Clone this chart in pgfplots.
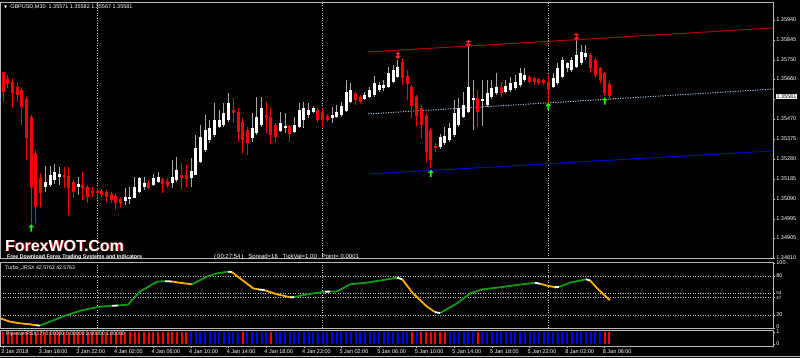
\documentclass[border=0pt]{standalone}
\usepackage{pgfplots}
\pgfplotsset{compat=1.18}
\usepackage{pgfplotstable}
\usepackage{fontspec}
\setmainfont{Liberation Sans}
\newfontfamily\symfont{DejaVu Sans}
\definecolor{bullwick}{HTML}{A8A8A8}
\definecolor{bear}{HTML}{FF0000}
\definecolor{jgreen}{HTML}{139A13}
\definecolor{jorange}{HTML}{FFAE00}
\definecolor{frame}{HTML}{B8B8B8}
\definecolor{sep}{HTML}{C8C8C8}
\definecolor{chred}{HTML}{B40000}
\definecolor{chblue}{HTML}{0000C8}
\definecolor{chdot}{HTML}{9AB8D0}
\definecolor{arrgreen}{HTML}{00FF00}
\definecolor{arrred}{HTML}{FF2020}
\newcommand{\tf}{\fontsize{5.5}{6}\selectfont}

\pgfdeclareplotmark{uparr}{%
  \pgfpathmoveto{\pgfqpoint{0bp}{3.8bp}}%
  \pgfpathlineto{\pgfqpoint{2.8bp}{0.6bp}}%
  \pgfpathlineto{\pgfqpoint{0.9bp}{0.6bp}}%
  \pgfpathlineto{\pgfqpoint{0.9bp}{-3.6bp}}%
  \pgfpathlineto{\pgfqpoint{-0.9bp}{-3.6bp}}%
  \pgfpathlineto{\pgfqpoint{-0.9bp}{0.6bp}}%
  \pgfpathlineto{\pgfqpoint{-2.8bp}{0.6bp}}%
  \pgfpathclose\pgfusepathqfill}
\pgfdeclareplotmark{dnarr}{%
  \pgfpathmoveto{\pgfqpoint{0bp}{-3.8bp}}%
  \pgfpathlineto{\pgfqpoint{2.8bp}{-0.6bp}}%
  \pgfpathlineto{\pgfqpoint{0.9bp}{-0.6bp}}%
  \pgfpathlineto{\pgfqpoint{0.9bp}{3.6bp}}%
  \pgfpathlineto{\pgfqpoint{-0.9bp}{3.6bp}}%
  \pgfpathlineto{\pgfqpoint{-0.9bp}{-0.6bp}}%
  \pgfpathlineto{\pgfqpoint{-2.8bp}{-0.6bp}}%
  \pgfpathclose\pgfusepathqfill
  \pgfpathrectangle{\pgfqpoint{-2.2bp}{2bp}}{\pgfqpoint{4.4bp}{0.8bp}}\pgfusepathqfill}

% bullish candles: index, open, high, low, close
\pgfplotstableread{
i o h l c
9 1.35147 1.35247 1.35123 1.35171
10 1.35156 1.35247 1.35147 1.35204
11 1.35180 1.35256 1.35161 1.35218
12 1.35194 1.35242 1.35156 1.35209
16 1.35147 1.35194 1.35109 1.35161
26 1.35080 1.35142 1.35061 1.35099
27 1.35090 1.35147 1.35066 1.35099
28 1.35095 1.35194 1.35095 1.35147
29 1.35123 1.35194 1.35118 1.35190
30 1.35147 1.35194 1.35133 1.35166
32 1.35156 1.35209 1.35152 1.35190
33 1.35171 1.35218 1.35166 1.35194
36 1.35166 1.35275 1.35142 1.35194
37 1.35180 1.35289 1.35171 1.35228
40 1.35190 1.35285 1.35147 1.35223
41 1.35204 1.35394 1.35204 1.35332
42 1.35266 1.35441 1.35261 1.35384
43 1.35323 1.35489 1.35313 1.35418
44 1.35370 1.35465 1.35356 1.35427
45 1.35394 1.35546 1.35384 1.35465
46 1.35432 1.35513 1.35427 1.35465
47 1.35441 1.35546 1.35432 1.35498
48 1.35465 1.35593 1.35456 1.35546
53 1.35380 1.35498 1.35361 1.35427
54 1.35403 1.35574 1.35394 1.35479
55 1.35441 1.35574 1.35432 1.35522
59 1.35413 1.35503 1.35408 1.35451
60 1.35427 1.35498 1.35403 1.35437
62 1.35408 1.35479 1.35403 1.35441
63 1.35432 1.35546 1.35427 1.35513
64 1.35465 1.35551 1.35427 1.35522
65 1.35489 1.35546 1.35475 1.35513
66 1.35503 1.35532 1.35498 1.35522
70 1.35475 1.35527 1.35451 1.35489
71 1.35479 1.35536 1.35475 1.35503
72 1.35489 1.35551 1.35479 1.35532
73 1.35508 1.35655 1.35503 1.35598
74 1.35551 1.35641 1.35546 1.35608
77 1.35565 1.35598 1.35560 1.35584
78 1.35574 1.35622 1.35570 1.35608
79 1.35584 1.35674 1.35574 1.35641
80 1.35608 1.35646 1.35598 1.35631
81 1.35617 1.35655 1.35603 1.35631
82 1.35622 1.35717 1.35617 1.35688
83 1.35646 1.35726 1.35641 1.35703
84 1.35669 1.35750 1.35665 1.35717
93 1.35337 1.35399 1.35327 1.35384
94 1.35356 1.35432 1.35346 1.35389
95 1.35370 1.35451 1.35361 1.35427
96 1.35394 1.35560 1.35384 1.35498
97 1.35441 1.35570 1.35432 1.35522
98 1.35479 1.35598 1.35475 1.35536
99 1.35503 1.35812 1.35498 1.35622
100 1.35560 1.35655 1.35418 1.35570
102 1.35555 1.35655 1.35437 1.35565
103 1.35536 1.35655 1.35527 1.35593
104 1.35574 1.35655 1.35565 1.35617
105 1.35593 1.35688 1.35584 1.35622
107 1.35598 1.35655 1.35593 1.35627
108 1.35608 1.35669 1.35598 1.35641
109 1.35617 1.35679 1.35608 1.35646
110 1.35631 1.35712 1.35622 1.35688
111 1.35655 1.35712 1.35646 1.35679
117 1.35622 1.35688 1.35617 1.35665
118 1.35641 1.35736 1.35631 1.35712
119 1.35669 1.35764 1.35665 1.35750
120 1.35712 1.35741 1.35693 1.35736
121 1.35703 1.35764 1.35693 1.35750
122 1.35717 1.35845 1.35712 1.35774
123 1.35736 1.35821 1.35726 1.35788
124 1.35764 1.35821 1.35750 1.35783
}\bulldata

% bearish candles: index, open, high, low, close
\pgfplotstableread{
i o h l c
0 1.35693 1.35693 1.35551 1.35598
1 1.35660 1.35679 1.35617 1.35636
2 1.35646 1.35665 1.35527 1.35593
3 1.35622 1.35641 1.35551 1.35584
4 1.35608 1.35617 1.35441 1.35527
5 1.35565 1.35574 1.35275 1.35380
6 1.35479 1.35489 1.34976 1.35142
7 1.35308 1.35323 1.34976 1.35052
8 1.35190 1.35213 1.35052 1.35118
13 1.35204 1.35242 1.35142 1.35194
14 1.35199 1.35242 1.35014 1.35142
15 1.35171 1.35180 1.35095 1.35123
17 1.35156 1.35218 1.35085 1.35142
18 1.35147 1.35156 1.35071 1.35099
19 1.35128 1.35147 1.35099 1.35118
20 1.35128 1.35142 1.35095 1.35118
21 1.35128 1.35137 1.35095 1.35109
22 1.35123 1.35133 1.35076 1.35099
23 1.35114 1.35123 1.35071 1.35085
24 1.35104 1.35114 1.35038 1.35071
25 1.35090 1.35099 1.35052 1.35071
31 1.35166 1.35180 1.35137 1.35142
34 1.35185 1.35190 1.35118 1.35161
35 1.35175 1.35190 1.35142 1.35152
38 1.35204 1.35261 1.35133 1.35190
39 1.35204 1.35251 1.35147 1.35185
49 1.35513 1.35570 1.35451 1.35498
50 1.35503 1.35522 1.35361 1.35408
51 1.35456 1.35475 1.35308 1.35370
52 1.35418 1.35432 1.35299 1.35356
56 1.35489 1.35551 1.35403 1.35475
57 1.35479 1.35527 1.35356 1.35394
58 1.35441 1.35451 1.35356 1.35384
61 1.35437 1.35441 1.35361 1.35399
67 1.35513 1.35522 1.35456 1.35465
68 1.35503 1.35522 1.35432 1.35465
69 1.35484 1.35494 1.35456 1.35465
75 1.35593 1.35598 1.35536 1.35560
76 1.35574 1.35584 1.35546 1.35551
85 1.35741 1.35760 1.35631 1.35665
86 1.35674 1.35703 1.35560 1.35636
87 1.35622 1.35631 1.35475 1.35532
88 1.35574 1.35584 1.35437 1.35484
89 1.35522 1.35536 1.35380 1.35441
90 1.35484 1.35494 1.35266 1.35313
91 1.35418 1.35427 1.35237 1.35275
92 1.35342 1.35356 1.35313 1.35332
101 1.35570 1.35608 1.35432 1.35503
106 1.35622 1.35646 1.35574 1.35593
112 1.35669 1.35679 1.35641 1.35646
113 1.35665 1.35669 1.35631 1.35646
114 1.35660 1.35665 1.35631 1.35641
115 1.35655 1.35660 1.35631 1.35641
116 1.35646 1.35679 1.35546 1.35608
125 1.35774 1.35783 1.35688 1.35712
126 1.35750 1.35760 1.35665 1.35679
127 1.35712 1.35717 1.35641 1.35655
128 1.35688 1.35693 1.35579 1.35593
129 1.35636 1.35646 1.35565 1.35581
}\beardata

\pgfplotsset{
  mtbase/.style={
    scale only axis, width=773bp, anchor=south west,
    xmin=-0.64, xmax=163.8,
    axis line style={draw=none},
    tick align=outside, major tick length=2bp,
    tick style={draw=frame, line width=0.6bp},
    tick label style={font=\tf, text=white},
    yticklabel style={anchor=west, inner sep=1.2bp},
    major grid style={draw=sep, line width=0.7bp, dash pattern=on 1bp off 1.5bp},
    scaled y ticks=false, scaled x ticks=false,
    clip mode=individual,
  },
  wick/.style={draw=none, mark=none, forget plot,
    error bars/.cd, y dir=minus, y explicit, error mark=none,
    error bar style={draw=#1, line width=1bp, solid}},
  body/.style={draw=none, mark=none, forget plot,
    error bars/.cd, y dir=minus, y explicit, error mark=none,
    error bar style={draw=#1, line width=3bp, solid}},
  level/.style={sep, line width=0.7bp, dash pattern=on 1bp off 1.5bp, mark=none, forget plot},
}

\begin{document}
\begin{tikzpicture}
\fill[black] (0bp,0bp) rectangle (800bp,358bp);
\useasboundingbox (0bp,0bp) rectangle (800bp,358bp);

% ---------------- main price panel ----------------
\begin{axis}[mtbase, at={(0bp,99bp)}, height=256bp,
  ymin=1.348048, ymax=1.360208,
  xtick={20,68,116}, xticklabels={}, xtick style={draw=none}, xmajorgrids,
  ytick pos=right,
  ytick={1.34810,1.34905,1.34995,1.35090,1.35185,1.35280,1.35375,1.35470,1.35565,1.35660,1.35750,1.35845,1.35940},
  yticklabels={1.34810,1.34905,1.34995,1.35090,1.35185,1.35280,1.35375,1.35470,,1.35660,1.35750,1.35845,1.35940},
]
\addplot[chred, line width=1bp, mark=none] coordinates {(77.66,1.35788) (163.8,1.35902)};
\addplot[chdot, line width=1bp, mark=none, dash pattern=on 1.2bp off 1.3bp] coordinates {(77.66,1.35494) (163.8,1.35612)};
\addplot[chblue, line width=1bp, mark=none] coordinates {(78.1,1.35209) (163.8,1.35318)};

\addplot[wick=bullwick] table[x=i, y=h, y error expr=\thisrow{h}-\thisrow{l}] {\bulldata};
\addplot[wick=bear] table[x=i, y=h, y error expr=\thisrow{h}-\thisrow{l}] {\beardata};
\addplot[body=white] table[x=i, y=c, y error expr=\thisrow{c}-\thisrow{o}] {\bulldata};
\addplot[body=bear] table[x=i, y=o, y error expr=\thisrow{o}-\thisrow{c}] {\beardata};

\addplot[only marks, mark=uparr, color=arrgreen] coordinates {(6,1.34952) (91,1.35211) (116,1.35529) (128,1.35555)};
\addplot[only marks, mark=dnarr, color=arrred] coordinates {(84,1.35771) (99,1.35828) (122,1.35859)};
\end{axis}

% ---------------- Turbo_JRSX panel ----------------
\begin{axis}[mtbase, at={(0bp,30bp)}, height=66bp,
  ymin=0, ymax=101.5,
  xtick={20,68,116}, xticklabels={}, xtick style={draw=none}, xmajorgrids,
  ytick pos=right,
  ytick={0,20,47,53,80,100},
  yticklabels={\raisebox{3.5bp}{0},20,{\fontsize{4.6}{5}\selectfont\raisebox{-1.6bp}{47}},{\fontsize{4.6}{5}\selectfont\raisebox{1.6bp}{53}},80,\raisebox{-3bp}{100}},
  unbounded coords=jump,
]
\addplot[level] coordinates {(-0.64,20) (163.8,20)};
\addplot[level] coordinates {(-0.64,47) (163.8,47)};
\addplot[level] coordinates {(-0.64,53) (163.8,53)};
\addplot[level] coordinates {(-0.64,80) (163.8,80)};
\addplot[jorange, line width=1.8bp, mark=none, line join=round] coordinates {
(-0.64,15) (1.5,9.7) (3.6,7.2) (5.7,5.7) (7.0,4.2) (8,nan)
(36.0,71.5) (37.7,69.5) (40.2,67.2) (41,nan)
(48.7,86) (50.4,76.4) (53.2,61) (54.3,59.5) (55,nan)
(55.7,58) (58.3,51.8) (61.1,47.3) (62,nan)
(84.9,75) (87.2,53.4) (90.2,32.8) (91.9,24.5) (92,nan)
(114.3,68) (115.7,65.1) (117.4,62.8) (118,nan)
(124.9,73) (126.4,61) (129.1,42.6)};
\addplot[jgreen, line width=1.8bp, mark=none, line join=round] coordinates {
(7.9,3.8) (10.0,9.7) (13.6,20) (17.0,27.7) (20.6,32.8) (23.2,34.2) (24,nan)
(24.5,34.6) (26.6,36) (29.1,55.9) (32.8,71.3) (34.5,72) (35,nan)
(40.2,67.2) (43.4,79) (45.5,84) (47.9,86.6) (48,nan)
(61.9,47.5) (64.7,51.8) (68.5,55.9) (69,nan)
(69.6,56) (71.1,56.2) (73.8,67.2) (77.4,69.7) (80.9,73.8) (83.8,77.5) (84,nan)
(93.0,23) (96.6,38) (99.4,53.4) (102.1,59.5) (105.7,62.6) (109.4,66.2) (113.2,69.5) (114,nan)
(118.3,63.2) (120.6,69.7) (124.0,75)};
\addplot[white, line width=1.8bp, mark=none] coordinates {
(7.0,4.2) (7.9,3.8) (7.5,nan) (23.2,34.2) (24.5,34.6) (24,nan) (34.5,72) (36.0,71.5) (35,nan)
(47.9,86.6) (48.7,86) (48,nan) (54.3,59.5) (55.7,58) (55,nan) (61.1,47.3) (61.9,47.5) (61,nan)
(68.5,55.9) (69.6,56) (69,nan) (83.8,77.5) (84.9,75) (84,nan) (91.9,24.5) (93.0,23) (92,nan)
(113.2,69.5) (114.3,68) (114,nan) (117.4,62.8) (118.3,63.2) (118,nan) (124.0,75) (124.9,73)};
\end{axis}

% ---------------- PipsoverRSI histogram panel ----------------
\begin{axis}[mtbase, at={(0bp,12bp)}, height=16bp,
  ymin=-0.15, ymax=1.15,
  ytick pos=right, ytick={0,1}, yticklabels={\raisebox{1.5bp}{0},\raisebox{-1bp}{1}},
  xtick pos=left,
  xtick={0,8,16,24,32,40,48,56,64,72,80,88,96,104,112,120,128},
  xticklabels={3 Jan 2018,3 Jan 18:00,3 Jan 22:00,4 Jan 02:00,4 Jan 06:00,4 Jan 10:00,4 Jan 14:00,4 Jan 18:00,4 Jan 22:00,5 Jan 02:00,5 Jan 06:00,5 Jan 10:00,5 Jan 14:00,5 Jan 18:00,5 Jan 22:00,8 Jan 02:00,8 Jan 06:00},
  xticklabel style={anchor=north west, inner sep=0pt, xshift=-2bp, yshift=-1.5bp},
]
\addplot[ycomb, draw=red, line width=2bp, mark=none] coordinates {
(0,1) (1,1) (2,1) (3,1) (4,1) (5,1) (6,1) (7,1) (8,1) (9,1) (10,1) (11,1) (12,1) (13,1) (14,1) (15,1) (16,1) (17,1) (18,1) (19,1)
(20,1) (21,1) (22,1) (23,1) (24,1) (25,1) (26,1) (27,1) (28,1) (29,1) (30,1) (31,1) (32,1) (33,1) (34,1) (35,1) (36,1) (37,1) (38,1) (39,1)
(51,1) (57,1) (87,1) (89,1) (90,1) (91,1) (92,1) (93,1) (94,1) (101,1) (128,1) (129,1)};
\addplot[ycomb, draw=blue, line width=2bp, mark=none] coordinates {
(40,1) (41,1) (42,1) (43,1) (44,1) (45,1) (46,1) (47,1) (48,1) (49,1) (50,1) (52,1) (53,1) (54,1) (55,1) (56,1)
(58,1) (59,1) (60,1) (61,1) (62,1) (63,1) (64,1) (65,1) (66,1) (67,1) (68,1) (69,1) (70,1) (71,1) (72,1) (73,1) (74,1) (75,1) (76,1) (77,1)
(78,1) (79,1) (80,1) (81,1) (82,1) (83,1) (84,1) (85,1) (86,1) (88,1) (95,1) (96,1) (97,1) (98,1) (99,1) (100,1)
(102,1) (103,1) (104,1) (105,1) (106,1) (107,1) (108,1) (109,1) (110,1) (111,1) (112,1) (113,1) (114,1) (115,1) (116,1) (117,1) (118,1) (119,1)
(120,1) (121,1) (122,1) (123,1) (124,1) (125,1) (126,1) (127,1)};
\end{axis}

% ---------------- frames ----------------
\draw[frame, line width=0.8bp] (0.5bp,100bp) rectangle (773.5bp,355.5bp);
\draw[frame, line width=0.8bp] (0.5bp,30bp) rectangle (773.5bp,96bp);
\draw[frame, line width=0.8bp] (0.5bp,12bp) rectangle (773.5bp,28bp);
\draw[frame, line width=0.8bp] (0bp,1.5bp) -- (800bp,1.5bp);

% ---------------- texts ----------------
\node[anchor=west, text=white, inner sep=0pt, font=\tf] at (4bp,351bp)
  {{\symfont\fontsize{4}{4}\selectfont ▼}\ \ GBPUSD,M30\ \ 1.35571 1.35582 1.35567 1.35581};
\begin{scope}[font=\bfseries\fontsize{16}{16}\selectfont]
  \node[anchor=base west, inner sep=0pt, text=red!85!black] at (5.9bp,106bp) {ForexWOT.Com};
  \node[anchor=base west, inner sep=0pt, text=white] at (5bp,106.8bp) {ForexWOT.Com};
\end{scope}
\node[anchor=west, inner sep=0pt, text=white, font=\bfseries\fontsize{5.3}{6}\selectfont] at (7bp,100.6bp)
  {Free Download Forex Trading Systems and Indicators};
\node[anchor=west, inner sep=0pt, text=white, font=\fontsize{6}{6}\selectfont] at (214bp,101.2bp)
  {(\,00:27:54\,)\ \ \ Spread=16\ \ \ TickVal=1.00\ \ \ Point=\ 0.0001};
\node[anchor=west, inner sep=0pt, text=white, font=\fontsize{5.2}{6}\selectfont] at (5bp,90bp)
  {Turbo\_JRSX 42.5763 42.5763};
\node[anchor=west, inner sep=0pt, text=white, font=\fontsize{5.2}{6}\selectfont] at (6bp,23.5bp)
  {PipsoverRSI(17) 0.00000 0.00000 0.00000 1.00000};
\node[anchor=west, inner sep=0.8bp, text=black, fill=white, font=\tf] at (775.5bp,261.3bp) {1.35581};
\end{tikzpicture}
\end{document}
